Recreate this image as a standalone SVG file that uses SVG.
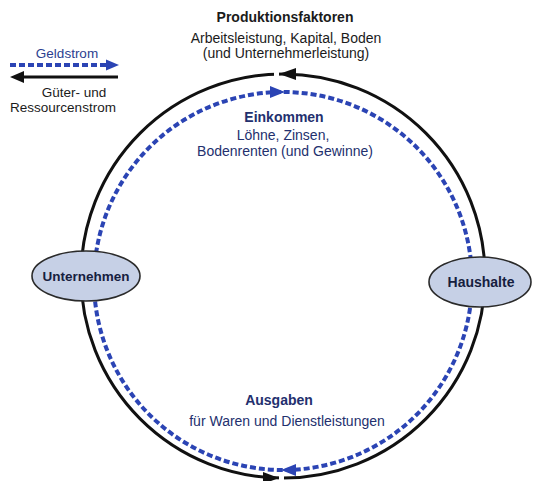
<svg xmlns="http://www.w3.org/2000/svg" width="534" height="481" viewBox="0 0 534 481">
<style>
text{font-family:"Liberation Sans",Arial,sans-serif;text-anchor:middle}
.b{font-weight:bold}
.t{font-size:14px}
.l{font-size:13.5px}
.dark{fill:#1b1b1b}
.navy{fill:#23306e}
.blue{fill:#2c3f90}
.goods{fill:none;stroke:#111;stroke-width:3}
.money{fill:none;stroke:#2b44b4;stroke-width:4;stroke-dasharray:6 3}
.node ellipse{fill:#c6d0e6;stroke:#2a2a2a;stroke-width:1.6}
.node text{font-weight:bold;fill:#16203f}
</style>
<rect width="534" height="481" fill="#ffffff"/>
<g id="connectors">
<circle class="goods" cx="283" cy="276" r="202"/>
<circle class="money" cx="283" cy="281" r="189"/>
<rect x="274" y="70" width="5" height="8" fill="#fff"/>
<polygon points="279,74 296,68 296,80" fill="#111"/>
<polygon points="285,92 270,86 270,98" fill="#2b44b4"/>
<polygon points="281,470 296,464 296,476" fill="#2b44b4"/>
<rect x="279" y="474" width="5" height="8" fill="#fff"/>
<polygon points="279,478 263,472 263,484" fill="#111"/>
</g>
<g id="legend">
<text class="l blue" x="67" y="58">Geldstrom</text>
<line class="money" x1="10" y1="65" x2="108" y2="65"/>
<polygon points="119,65 106,59.5 106,70.5" fill="#2b44b4"/>
<line class="goods" x1="118" y1="77" x2="22" y2="77"/>
<polygon points="10,77 24,71 24,83" fill="#111"/>
<text class="l dark" x="74" y="97">Güter- und</text>
<text class="l dark" x="63" y="112">Ressourcenstrom</text>
</g>
<g id="label-top">
<text class="t b dark" x="285" y="22">Produktionsfaktoren</text>
<text class="t dark" x="286" y="43">Arbeitsleistung, Kapital, Boden</text>
<text class="t dark" x="286" y="58">(und Unternehmerleistung)</text>
</g>
<g id="label-income">
<text class="t b navy" x="284" y="122">Einkommen</text>
<text class="t navy" x="283" y="140">Löhne, Zinsen,</text>
<text class="t navy" x="285" y="156">Bodenrenten (und Gewinne)</text>
</g>
<g id="label-spending">
<text class="t b navy" x="279" y="405">Ausgaben</text>
<text class="t navy" x="287" y="426">für Waren und Dienstleistungen</text>
</g>
<g id="node-unternehmen" class="node">
<ellipse cx="86" cy="276" rx="54" ry="25"/>
<text x="86" y="281" font-size="13.5px">Unternehmen</text>
</g>
<g id="node-haushalte" class="node">
<ellipse cx="480" cy="282" rx="51" ry="25"/>
<text x="481" y="287" font-size="14px">Haushalte</text>
</g>
</svg>
